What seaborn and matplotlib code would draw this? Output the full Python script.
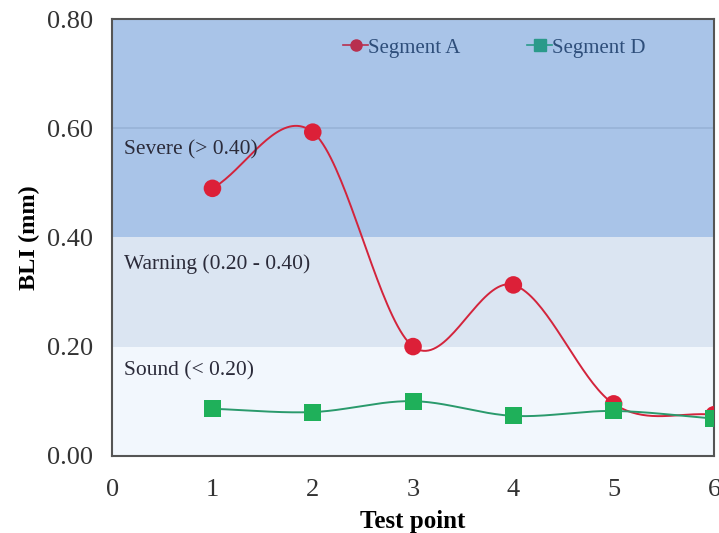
import numpy as np
import pandas as pd
import matplotlib
matplotlib.use("Agg")
import matplotlib.pyplot as plt
from matplotlib.lines import Line2D
import seaborn as sns

# ---- data ----
test_points = [1, 2, 3, 4, 5, 6]
segment_a = [0.49, 0.593, 0.20, 0.313, 0.095, 0.075]
segment_d = [0.086, 0.080, 0.100, 0.073, 0.082, 0.068]
x_ticks = [0, 1, 2, 3, 4, 5, 6]
y_ticks = [0.0, 0.2, 0.4, 0.6, 0.8]
band_edges = [0.0, 0.2, 0.4, 0.8]
band_labels = ["Sound (< 0.20)", "Warning (0.20 - 0.40)", "Severe (> 0.40)"]
band_label_y = [0.155, 0.352, 0.56]


def catmull_rom(xs, ys, n=40):
    xs = np.asarray(xs, float)
    ys = np.asarray(ys, float)
    px = np.concatenate([[2 * xs[0] - xs[1]], xs, [2 * xs[-1] - xs[-2]]])
    py = np.concatenate([[2 * ys[0] - ys[1]], ys, [2 * ys[-1] - ys[-2]]])
    ox, oy = [], []
    t = np.linspace(0, 1, n)
    for i in range(1, len(px) - 2):
        p0x, p1x, p2x, p3x = px[i - 1:i + 3]
        p0y, p1y, p2y, p3y = py[i - 1:i + 3]
        m1x, m2x = (p2x - p0x) / 2, (p3x - p1x) / 2
        m1y, m2y = (p2y - p0y) / 2, (p3y - p1y) / 2
        h00 = 2 * t**3 - 3 * t**2 + 1
        h10 = t**3 - 2 * t**2 + t
        h01 = -2 * t**3 + 3 * t**2
        h11 = t**3 - t**2
        ox.extend(h00 * p1x + h10 * m1x + h01 * p2x + h11 * m2x)
        oy.extend(h00 * p1y + h10 * m1y + h01 * p2y + h11 * m2y)
    return np.array(ox), np.array(oy)


plt.rcParams["font.family"] = ["Liberation Serif", "DejaVu Serif"]

fig = plt.figure(figsize=(7.19, 5.33), dpi=100)
ax = fig.add_axes([0.156, 0.145, 0.837, 0.819])

band_colors = ["#f2f7fd", "#dbe5f2", "#a9c4e8"]
for lo, hi, c in zip(band_edges[:-1], band_edges[1:], band_colors):
    ax.axhspan(lo, hi, color=c, zorder=0, lw=0)
ax.axhline(0.6, color="#98b2d6", lw=1.2, zorder=0.5)

sx_a, sy_a = catmull_rom(test_points, segment_a)
sx_d, sy_d = catmull_rom(test_points, segment_d)
smooth = pd.concat([
    pd.DataFrame({"x": sx_a, "y": sy_a, "s": "Segment A"}),
    pd.DataFrame({"x": sx_d, "y": sy_d, "s": "Segment D"}),
])
pts = pd.concat([
    pd.DataFrame({"x": test_points, "y": segment_a, "s": "Segment A"}),
    pd.DataFrame({"x": test_points, "y": segment_d, "s": "Segment D"}),
])

line_pal = {"Segment A": "#d3243c", "Segment D": "#2a9a6c"}
mark_pal = {"Segment A": "#dc2038", "Segment D": "#1fb05a"}

sns.lineplot(data=smooth, x="x", y="y", hue="s", palette=line_pal, sort=False,
             estimator=None, linewidth=1.4, legend=False, ax=ax, zorder=3)
sns.scatterplot(data=pts[pts.s == "Segment A"], x="x", y="y", color=mark_pal["Segment A"],
                marker="o", s=160, edgecolor="none", legend=False, ax=ax, zorder=4)
sns.scatterplot(data=pts[pts.s == "Segment D"], x="x", y="y", color=mark_pal["Segment D"],
                marker="s", s=150, edgecolor="none", legend=False, ax=ax, zorder=5)

for lab, yv in zip(band_labels, band_label_y):
    ax.text(0.12, yv, lab, fontsize=15.5, color="#2b2b3a", va="center", ha="left", zorder=6)

ax.set_xlim(0, 6)
ax.set_ylim(0, 0.8)
ax.set_xticks(x_ticks)
ax.set_xticklabels([str(v) for v in x_ticks])
ax.set_yticks(y_ticks)
ax.set_yticklabels([f"{v:.2f}" for v in y_ticks])
ax.tick_params(axis="both", labelsize=19, length=0, colors="#333333")
ax.tick_params(axis="x", pad=17)
ax.tick_params(axis="y", pad=14)
ax.set_xlabel("Test point", fontsize=18, fontweight="bold", labelpad=6)
ax.set_ylabel("BLI (mm)", fontsize=17.5, fontweight="bold", labelpad=5)
for sp in ax.spines.values():
    sp.set_color("#555555")
    sp.set_linewidth(1.5)

handles = [
    Line2D([], [], color="#b8304f", marker="o", markersize=8, lw=1.2),
    Line2D([], [], color="#2a9a8a", marker="s", markersize=8, lw=1.2),
]
leg = ax.legend(handles, ["Segment A", "Segment D"], ncol=2, frameon=False,
                loc="upper center", bbox_to_anchor=(0.635, 1.0), fontsize=15,
                handlelength=1.2, handletextpad=0.0, columnspacing=3.2)
for t in leg.get_texts():
    t.set_color("#2e4e7a")

fig.savefig("out.png", dpi=100)
